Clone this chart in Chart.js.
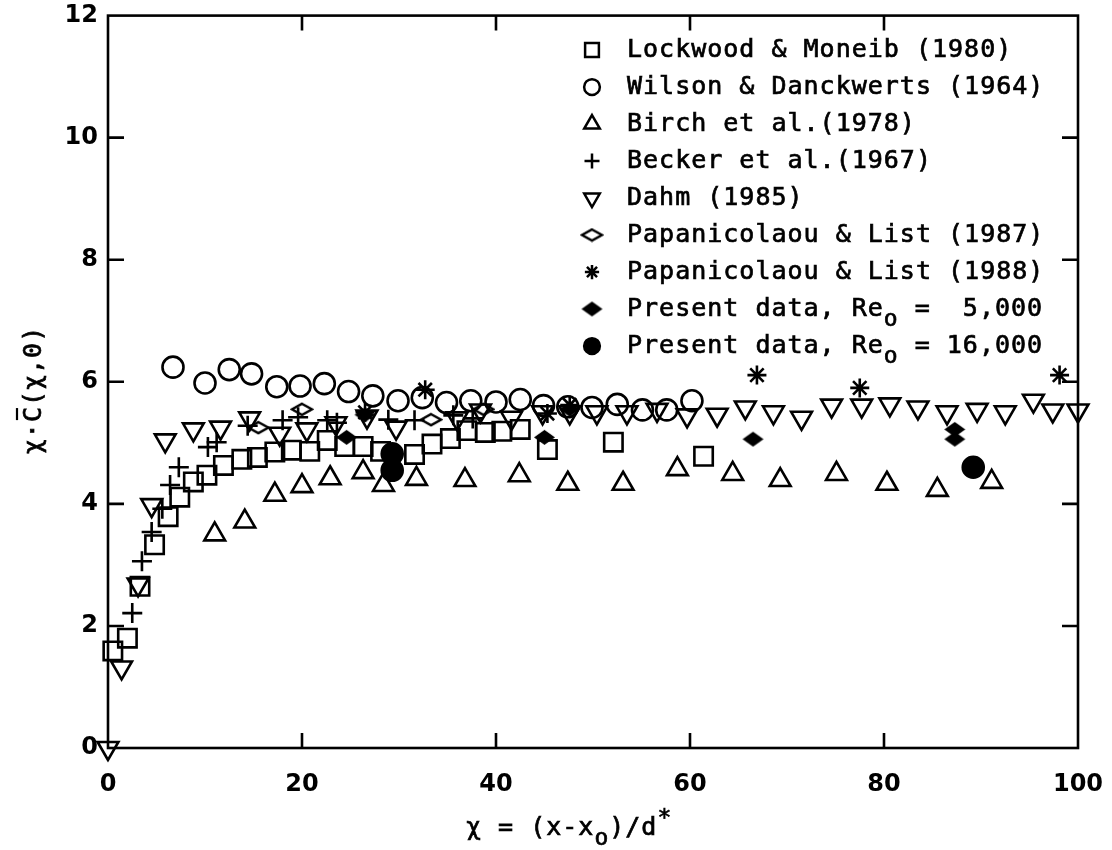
<!DOCTYPE html>
<html>
<head>
<meta charset="utf-8">
<script src="https://cdn.jsdelivr.net/npm/chart.js@4.4.0/dist/chart.umd.min.js"></script>
<style>
  body { margin: 0; background: #fff; }
  canvas { display: block; }
</style>
</head>
<body>
<canvas id="chart" width="1112" height="850"></canvas>
<script>
// values (x = chi, y = chi*C(chi,0))
const seriesNames = [
    'Lockwood & Moneib (1980)',
    'Wilson & Danckwerts (1964)',
    'Birch et al.(1978)',
    'Becker et al.(1967)',
    'Dahm (1985)',
    'Papanicolaou & List (1987)',
    'Papanicolaou & List (1988)',
    'Present data, Re_o =  5,000',
    'Present data, Re_o = 16,000'
];

const lmX = [0.5, 2.0, 3.3, 4.8, 6.2, 7.4, 8.8, 10.2, 11.9, 13.8, 15.4, 17.2, 18.9, 20.8, 22.6, 24.4, 26.3, 28.1, 31.6, 33.4, 35.3, 37.0, 38.9, 40.6, 42.5, 45.3, 52.1, 61.4];
const lmY = [1.59, 1.80, 2.65, 3.33, 3.79, 4.11, 4.36, 4.47, 4.63, 4.73, 4.76, 4.85, 4.88, 4.86, 5.04, 4.94, 4.94, 4.86, 4.81, 4.98, 5.07, 5.20, 5.17, 5.19, 5.22, 4.89, 5.01, 4.78];

const wdX = [6.7, 10.0, 12.5, 14.8, 17.4, 19.8, 22.3, 24.8, 27.3, 29.9, 32.4, 34.9, 37.4, 40.0, 42.5, 44.9, 47.4, 49.9, 52.5, 55.1, 57.6, 60.2];
const wdY = [6.24, 5.98, 6.20, 6.13, 5.92, 5.93, 5.97, 5.84, 5.77, 5.69, 5.74, 5.66, 5.69, 5.67, 5.71, 5.61, 5.59, 5.58, 5.63, 5.54, 5.54, 5.69];

const birchX = [11.0, 14.1, 17.2, 20.0, 22.9, 26.3, 28.4, 31.8, 36.8, 42.4, 47.4, 53.1, 58.7, 64.4, 69.3, 75.1, 80.3, 85.5, 91.1];
const birchY = [3.50, 3.71, 4.15, 4.29, 4.42, 4.52, 4.31, 4.41, 4.39, 4.47, 4.33, 4.33, 4.57, 4.49, 4.39, 4.49, 4.33, 4.23, 4.36];

const beckerX = [2.5, 3.5, 4.5, 5.6, 6.4, 7.3, 10.3, 11.2, 14.4, 18.0, 19.6, 22.6, 23.6, 28.9, 31.6, 35.6, 37.6];
const beckerY = [2.21, 3.06, 3.54, 3.92, 4.31, 4.60, 4.93, 5.01, 5.28, 5.37, 5.42, 5.37, 5.33, 5.38, 5.37, 5.45, 5.40];

const dahmX = [0.0, 1.4, 3.1, 4.5, 5.9, 8.8, 11.6, 14.6, 17.7, 20.5, 23.5, 26.7, 29.7, 36.0, 38.4, 41.6, 44.8, 47.6, 50.4, 53.5, 56.6, 59.7, 62.8, 65.7, 68.6, 71.5, 74.6, 77.7, 80.6, 83.5, 86.5, 89.6, 92.5, 95.4, 97.4, 100.0];
const dahmY = [0.0, 1.32, 2.68, 3.98, 5.04, 5.22, 5.25, 5.40, 5.15, 5.22, 5.32, 5.43, 5.25, 5.40, 5.53, 5.41, 5.50, 5.50, 5.50, 5.50, 5.54, 5.45, 5.46, 5.58, 5.50, 5.41, 5.61, 5.61, 5.63, 5.58, 5.50, 5.54, 5.50, 5.69, 5.53, 5.53];

const pl87X = [15.5, 20.0, 33.3, 38.7];
const pl87Y = [5.25, 5.55, 5.38, 5.55];

const pl88X = [26.5, 32.7, 45.3, 47.6, 66.9, 77.5, 98.1];
const pl88Y = [5.50, 5.87, 5.48, 5.62, 6.11, 5.90, 6.11];

const re5kX = [24.6, 26.5, 45.0, 47.6, 66.5, 87.3, 87.3];
const re5kY = [5.09, 5.46, 5.09, 5.55, 5.06, 5.22, 5.06];

const re16kX = [29.3, 29.3, 89.2];
const re16kY = [4.82, 4.55, 4.60];

const xTicks = [0, 20, 40, 60, 80, 100];
const yTicks = [0, 2, 4, 6, 8, 10, 12];

const FONT = '"DejaVu Sans Mono", monospace';
const TICK_FONT = '"DejaVu Sans", sans-serif';

function pts(xs, ys) {
    return xs.map((x, i) => ({ x: x, y: ys[i] }));
}

// flattened diamonds (wider than tall) as little canvases
function diamond(w, h, filled) {
    const c = document.createElement('canvas');
    c.width = w + 4;
    c.height = h + 4;
    const g = c.getContext('2d');
    g.beginPath();
    g.moveTo(c.width / 2, 2);
    g.lineTo(c.width - 2, c.height / 2);
    g.lineTo(c.width / 2, c.height - 2);
    g.lineTo(2, c.height / 2);
    g.closePath();
    if (filled) {
        g.fillStyle = '#000';
        g.fill();
    } else {
        g.lineWidth = 2.5;
        g.strokeStyle = '#000';
        g.stroke();
    }
    return c;
}
const openDiamond = diamond(20, 11, false);
const solidDiamond = diamond(21, 15, true);

function ds(i, data, style, radius, extra) {
    return Object.assign({
        label: seriesNames[i],
        data: data,
        showLine: false,
        pointStyle: style,
        pointRadius: radius,
        pointBorderWidth: 2.6,
        pointBorderColor: '#000',
        pointBackgroundColor: 'rgba(0,0,0,0)',
        clip: false
    }, extra || {});
}

// draw text with "_o" as subscript o and "^*" as superscript star
function richText(ctx, text, x, y, size) {
    let cx = x;
    const parts = text.split(/(_o|\^\*)/);
    ctx.lineWidth = 0.7;
    ctx.strokeStyle = '#000';
    parts.forEach(p => {
        if (!p) return;
        let s = p, dy = 0, fs = size;
        if (p === '_o') { s = 'o'; dy = size * 0.45; fs = Math.round(size * 0.9); }
        if (p === '^*') { s = '*'; dy = -size * 0.35; fs = Math.round(size * 0.9); }
        ctx.font = fs + 'px ' + FONT;
        ctx.fillText(s, cx, y + dy);
        ctx.strokeText(s, cx, y + dy);
        cx += ctx.measureText(s).width;
    });
    return cx - x;
}

const decorations = {
    id: 'decorations',
    afterDraw(chart) {
        const { ctx, chartArea: a, scales: { x, y } } = chart;
        ctx.save();
        ctx.strokeStyle = '#000';
        ctx.lineWidth = 2.6;
        ctx.strokeRect(a.left, a.top, a.right - a.left, a.bottom - a.top);
        ctx.beginPath();
        xTicks.slice(1, -1).forEach(v => {
            const px = x.getPixelForValue(v);
            ctx.moveTo(px, a.bottom); ctx.lineTo(px, a.bottom - 15);
            ctx.moveTo(px, a.top); ctx.lineTo(px, a.top + 15);
        });
        yTicks.slice(1, -1).forEach(v => {
            const py = y.getPixelForValue(v);
            ctx.moveTo(a.left, py); ctx.lineTo(a.left + 16, py);
            ctx.moveTo(a.right, py); ctx.lineTo(a.right - 16, py);
        });
        ctx.stroke();

        // legend
        ctx.fillStyle = '#000';
        ctx.textBaseline = 'middle';
        ctx.textAlign = 'left';
        if ('letterSpacing' in ctx) ctx.letterSpacing = '1px';
        chart.data.datasets.forEach((d, i) => {
            const ly = 50 + i * 37;
            ctx.save();
            ctx.lineWidth = 2.5;
            ctx.fillStyle = d.pointBackgroundColor;
            Chart.helpers.drawPoint(ctx, {
                pointStyle: d.pointStyle,
                rotation: d.rotation || 0,
                radius: d.pointRadius * 0.75,
                borderWidth: 2.5
            }, 592, ly);
            ctx.restore();
            richText(ctx, d.label, 627, ly, 25);
        });

        // axis titles
        const xt = 'χ = (x-x_o)/d^*';
        const approx = 25 * 0.6 * 14 + 10;
        richText(ctx, xt, 576 - approx / 2, 828, 25);

        ctx.translate(34, 390);
        ctx.rotate(-Math.PI / 2);
        ctx.font = '25px ' + FONT;
        const yt = 'χ·C(χ,0)';
        const w = ctx.measureText(yt).width;
        const x0 = -w / 2;
        ctx.lineWidth = 0.7;
        ctx.fillText(yt, x0, 0);
        ctx.strokeText(yt, x0, 0);
        const wPre = ctx.measureText('χ·').width;
        const wC = ctx.measureText('C').width;
        ctx.lineWidth = 2.2;
        ctx.beginPath();
        ctx.moveTo(x0 + wPre + 2, -17);
        ctx.lineTo(x0 + wPre + wC - 2, -17);
        ctx.stroke();
        ctx.restore();
    }
};

new Chart(document.getElementById('chart'), {
    type: 'scatter',
    data: {
        datasets: [
            ds(0, pts(lmX, lmY), 'rect', 13),
            ds(1, pts(wdX, wdY), 'circle', 10.5),
            ds(2, pts(birchX, birchY), 'triangle', 12),
            ds(3, pts(beckerX, beckerY), 'cross', 10),
            ds(4, pts(dahmX, dahmY), 'triangle', 12, { rotation: 180 }),
            ds(5, pts(pl87X, pl87Y), openDiamond, 10),
            ds(6, pts(pl88X, pl88Y), 'star', 9.5),
            ds(7, pts(re5kX, re5kY), solidDiamond, 10),
            ds(8, pts(re16kX, re16kY), 'circle', 10.5, { pointBackgroundColor: '#000' })
        ]
    },
    options: {
        responsive: false,
        animation: false,
        layout: { padding: { left: 0, right: 34, top: 15, bottom: 0 } },
        plugins: {
            legend: { display: false },
            tooltip: { enabled: false }
        },
        scales: {
            x: {
                type: 'linear',
                min: 0,
                max: 100,
                afterFit: s => { s.height = 102; s.paddingLeft = 0; s.paddingRight = 0; },
                afterBuildTicks: s => { s.ticks = xTicks.map(v => ({ value: v })); },
                grid: { display: false, drawTicks: false },
                border: { display: false },
                ticks: { color: '#000', padding: 22, maxRotation: 0, font: { family: TICK_FONT, size: 24, weight: 'bold' } }
            },
            y: {
                type: 'linear',
                min: 0,
                max: 12,
                afterFit: s => { s.width = 108; s.paddingTop = 0; s.paddingBottom = 0; },
                afterBuildTicks: s => { s.ticks = yTicks.map(v => ({ value: v })); },
                grid: { display: false, drawTicks: false },
                border: { display: false },
                ticks: { color: '#000', padding: 10, font: { family: TICK_FONT, size: 24, weight: 'bold' } }
            }
        }
    },
    plugins: [decorations]
});
</script>
</body>
</html>
